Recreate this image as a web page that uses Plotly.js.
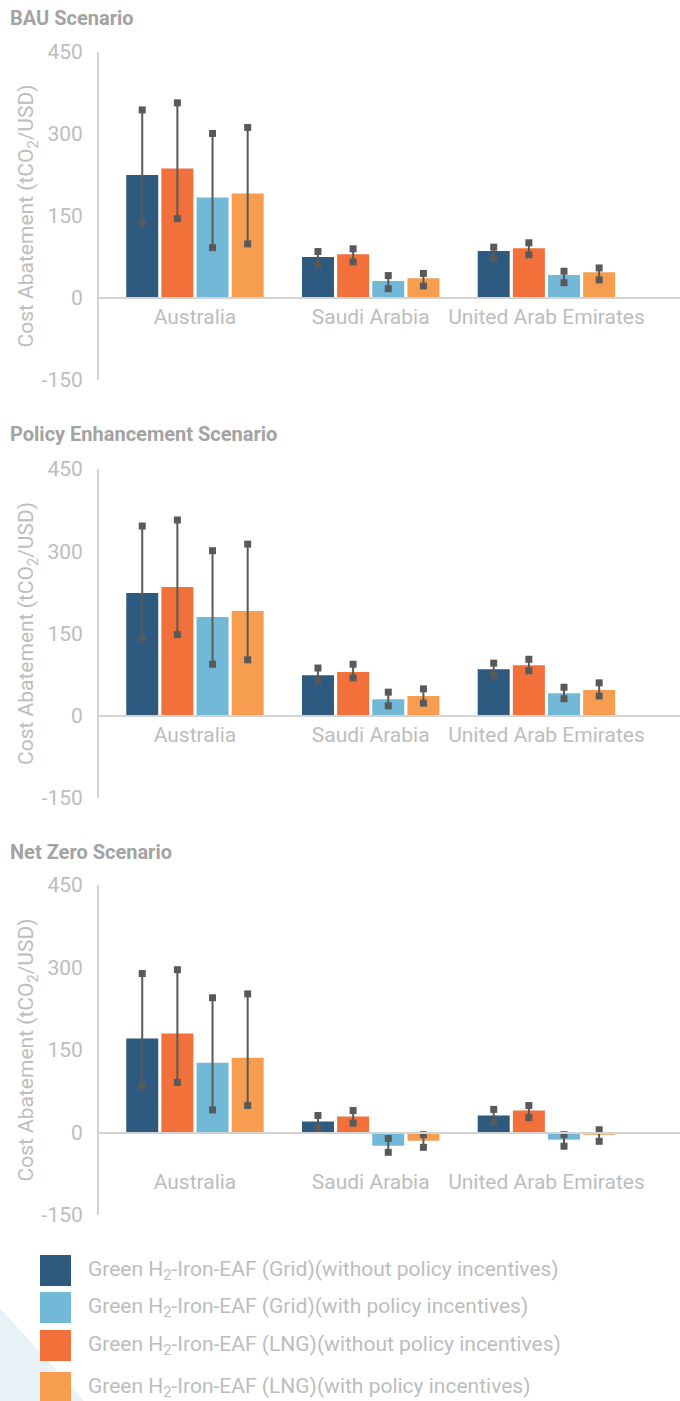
<!DOCTYPE html>
<html>
<head>
<meta charset="utf-8">
<script src="https://cdn.plot.ly/plotly-3.0.1.min.js"></script>
<style>
  html, body { margin: 0; padding: 0; background: #ffffff; }
  #chart { width: 680px; height: 1401px; }
</style>
</head>
<body>
<div id="chart"></div>
<script>
// Countries on the category axis
const countries = ['Australia', 'Saudi Arabia', 'United Arab Emirates'];

// Pathways, in the order the bars are drawn inside each country group
const seriesNames = [
  'Green H<sub>2</sub>-Iron-EAF (Grid)(without policy incentives)',
  'Green H<sub>2</sub>-Iron-EAF (LNG)(without policy incentives)',
  'Green H<sub>2</sub>-Iron-EAF (Grid)(with policy incentives)',
  'Green H<sub>2</sub>-Iron-EAF (LNG)(with policy incentives)'
];
const seriesColors = ['#2e5a7f', '#f2703a', '#71b9d6', '#f79d4f'];
// Order the pathways are listed in the key below the charts
const legendOrder = [0, 2, 1, 3];

const scenarioTitles = ['BAU Scenario', 'Policy Enhancement Scenario', 'Net Zero Scenario'];
const yTickVals = [-150, 0, 150, 300, 450];
const yTickLabels = ['-150', '0', '150', '300', '450'];

// BAU scenario: central value and low / high range, one row per pathway
const bauValues = [[225, 75, 86], [237, 80, 91], [184, 31, 42], [191, 36, 47]];
const bauLow    = [[137, 61, 72], [145, 66, 79], [92, 17, 28], [99, 22, 33]];
const bauHigh   = [[344, 85, 93], [357, 90, 101], [301, 41, 49], [312, 45, 55]];

// Policy Enhancement scenario
const policyValues = [[224, 74, 85], [235, 80, 92], [180, 30, 41], [191, 36, 47]];
const policyLow    = [[141, 64, 74], [148, 69, 82], [94, 18, 31], [102, 23, 36]];
const policyHigh   = [[346, 87, 96], [357, 94, 103], [301, 43, 52], [313, 49, 60]];

// Net Zero scenario
const netZeroValues = [[171, 20, 31], [180, 29, 40], [127, -24, -13], [136, -15, -4]];
const netZeroLow    = [[84, 8, 19], [91, 17, 27], [41, -36, -25], [49, -27, -16]];
const netZeroHigh   = [[289, 31, 42], [296, 40, 49], [245, -11, -4], [252, -4, 5]];

const scenarios = [
  { values: bauValues, low: bauLow, high: bauHigh },
  { values: policyValues, low: policyLow, high: policyHigh },
  { values: netZeroValues, low: netZeroLow, high: netZeroHigh }
];

// ---- page geometry (pixels) ----
const W = 680, H = 1401;
const FONT = 'Roboto, "Open Sans", sans-serif';
const TEXT_GREY = '#bdbdbd';
const TITLE_GREY = '#a3a3a3';
const AXIS_GREY = '#d3d3d3';
const RANGE_GREY = '#595959';

// plot-area top / bottom (px) for each scenario panel, and title rows
const panelTops = [52, 469, 885];
const panelBottoms = [380, 798, 1215];
const titleRows = [18, 434, 852];
const labelStandoff = [0, 0, 30];
const yRange = [-150, 450];
const xRange = [-0.546, 2.76];
const plotLeft = 99;

const BAR_WIDTH = 0.182;
const BAR_STEP = 0.2;

const py = px => 1 - px / H;   // pixel row -> paper fraction
const pxX = px => px / W;      // pixel column -> paper fraction

const traces = [];
const layout = {
  width: W, height: H,
  margin: { l: 0, r: 0, t: 0, b: 0, pad: 0 },
  paper_bgcolor: '#ffffff',
  plot_bgcolor: 'rgba(0,0,0,0)',
  font: { family: FONT, color: TEXT_GREY },
  showlegend: false,
  barmode: 'overlay',
  annotations: [],
  shapes: []
};

scenarios.forEach((sc, s) => {
  const suffix = s === 0 ? '' : String(s + 1);
  const xa = 'x' + suffix, ya = 'y' + suffix;
  const dom = [py(panelBottoms[s]), py(panelTops[s])];
  const zeroFrac = dom[0] + (0 - yRange[0]) / (yRange[1] - yRange[0]) * (dom[1] - dom[0]);

  sc.values.forEach((vals, k) => {
    const offset = (k - (sc.values.length - 1) / 2) * BAR_STEP;
    const xs = countries.map((_, i) => i + offset);
    traces.push({
      type: 'bar', xaxis: xa, yaxis: ya,
      name: seriesNames[k],
      x: xs, y: vals, width: BAR_WIDTH,
      marker: { color: seriesColors[k], line: { width: 0 } },
      hoverinfo: 'skip'
    });
    // low-high range drawn as a whisker with square end markers
    const rx = [], ry = [];
    xs.forEach((x, i) => {
      rx.push(x, x, null);
      ry.push(sc.low[k][i], sc.high[k][i], null);
    });
    traces.push({
      type: 'scatter', mode: 'lines+markers', xaxis: xa, yaxis: ya,
      x: rx, y: ry, connectgaps: false,
      line: { color: RANGE_GREY, width: 2 },
      marker: { symbol: 'square', size: 7, color: RANGE_GREY },
      hoverinfo: 'skip', showlegend: false
    });
  });

  layout['xaxis' + suffix] = {
    domain: [pxX(plotLeft), 1],
    range: xRange,
    anchor: 'free', position: zeroFrac,
    tickmode: 'array', tickvals: countries.map((_, i) => i), ticktext: countries,
    ticks: '', ticklabelstandoff: labelStandoff[s],
    tickfont: { size: 21, color: TEXT_GREY, family: FONT },
    showline: true, linecolor: AXIS_GREY, linewidth: 2,
    showgrid: false, zeroline: false, fixedrange: true
  };
  layout['yaxis' + suffix] = {
    domain: dom,
    anchor: xa,
    range: yRange,
    tickmode: 'array', tickvals: yTickVals, ticktext: yTickLabels,
    ticks: '', ticklabelstandoff: 10,
    tickfont: { size: 21, color: TEXT_GREY, family: FONT },
    showline: true, linecolor: AXIS_GREY, linewidth: 2,
    showgrid: false, zeroline: false, fixedrange: true,
    title: {
      text: 'Cost Abatement (tCO<sub>2</sub>/USD)',
      font: { size: 21, color: TEXT_GREY, family: FONT },
      standoff: 2
    }
  };

  layout.annotations.push({
    xref: 'paper', yref: 'paper', x: pxX(8), y: py(titleRows[s]),
    xanchor: 'left', yanchor: 'middle', showarrow: false,
    text: '<b>' + scenarioTitles[s] + '</b>',
    font: { size: 20, color: TITLE_GREY, family: FONT }
  });
});

// pale corner accent behind the key
layout.shapes.push({
  type: 'path', xref: 'paper', yref: 'paper', layer: 'below',
  path: `M 0 ${py(1308)} L ${pxX(84)} 0 L 0 0 Z`,
  fillcolor: '#e7f2f7', line: { width: 0 }
});

// key: colour swatches with pathway names
const keyRowTops = [1255, 1292, 1330, 1372];
const keySwatch = 31;
legendOrder.forEach((k, row) => {
  const top = keyRowTops[row];
  layout.shapes.push({
    type: 'rect', xref: 'paper', yref: 'paper',
    x0: pxX(40), x1: pxX(40 + keySwatch), y0: py(top + keySwatch), y1: py(top),
    fillcolor: seriesColors[k], line: { width: 0 }
  });
  layout.annotations.push({
    xref: 'paper', yref: 'paper', x: pxX(86), y: py(top + keySwatch / 2),
    xanchor: 'left', yanchor: 'middle', showarrow: false,
    text: seriesNames[k],
    font: { size: 21, color: TEXT_GREY, family: FONT }
  });
});

Plotly.newPlot('chart', traces, layout, { staticPlot: true, displayModeBar: false });
</script>
</body>
</html>
